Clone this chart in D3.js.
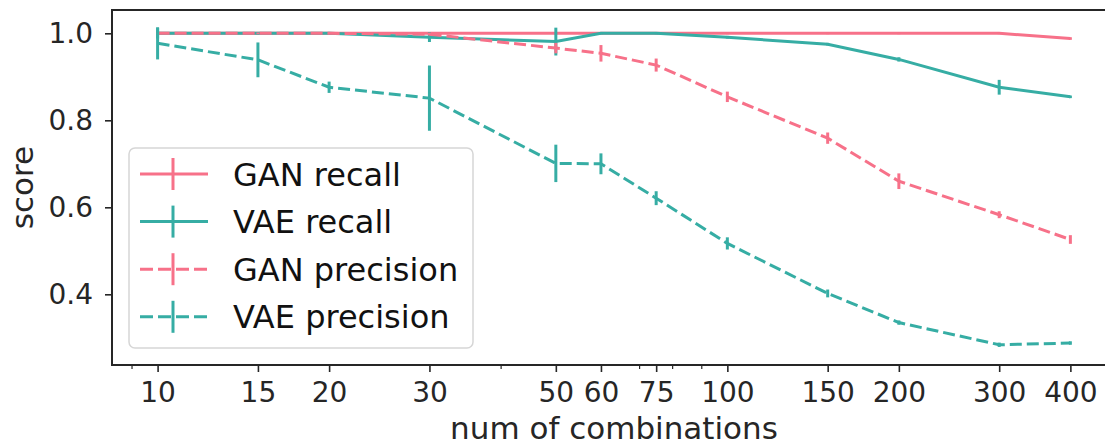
<!DOCTYPE html>
<html>
<head>
<meta charset="utf-8">
<script src="https://cdn.jsdelivr.net/npm/d3@7"></script>
<style>
  body { margin: 0; background: #fff; }
  svg { display: block; font-family: "DejaVu Sans", sans-serif; }
</style>
</head>
<body>
<svg id="chart"></svg>
<script>
// data
const combos = [10, 15, 20, 30, 50, 60, 75, 100, 150, 200, 300, 400];
const ganRecall = [1.0, 1.0, 1.0, 1.0, 1.0, 1.0, 1.0, 1.0, 1.0, 1.0, 1.0, 0.988];
const ganRecallErr = [0.003, 0.002, 0.002, 0.002, 0.003, 0.002, 0.002, 0.002, 0.002, 0.002, 0.002, 0.003];
const vaeRecall = [1.0, 1.0, 1.0, 0.991, 0.981, 1.0, 1.0, 0.991, 0.975, 0.940, 0.876, 0.854];
const vaeRecallErr = [0.012, 0.002, 0.002, 0.011, 0.032, 0.002, 0.002, 0.003, 0.003, 0.005, 0.017, 0.003];
const ganPrecision = [1.0, 1.0, 1.0, 0.998, 0.966, 0.954, 0.927, 0.854, 0.759, 0.660, 0.583, 0.526];
const ganPrecisionErr = [0.002, 0.002, 0.002, 0.003, 0.012, 0.019, 0.015, 0.012, 0.013, 0.018, 0.008, 0.010];
const vaePrecision = [0.977, 0.939, 0.876, 0.851, 0.701, 0.700, 0.621, 0.517, 0.402, 0.335, 0.284, 0.288];
const vaePrecisionErr = [0.037, 0.040, 0.013, 0.075, 0.043, 0.024, 0.016, 0.014, 0.009, 0.005, 0.005, 0.004];
const xTicks = [10, 15, 20, 30, 50, 60, 75, 100, 150, 200, 300, 400];
const xMinorTicks = [9, 40, 70, 80, 90];
const yTicks = [0.4, 0.6, 0.8, 1.0];

const pink = '#f77189';
const teal = '#36ada4';

const series = [
  { name: 'GAN recall', values: ganRecall, err: ganRecallErr, color: pink, dash: null },
  { name: 'VAE recall', values: vaeRecall, err: vaeRecallErr, color: teal, dash: null },
  { name: 'GAN precision', values: ganPrecision, err: ganPrecisionErr, color: pink, dash: '12,5' },
  { name: 'VAE precision', values: vaePrecision, err: vaePrecisionErr, color: teal, dash: '12,5' }
];

const width = 1105;
const height = 446;
const margin = { top: 10, right: -11, bottom: 81, left: 112 };

const svg = d3.select('#chart').attr('width', width).attr('height', height);

const x = d3.scaleLog()
  .domain([8.317, 481])
  .range([margin.left, width - margin.right]);

const y = d3.scaleLinear()
  .domain([0.2375, 1.0536])
  .range([height - margin.bottom, margin.top]);

const ink = '#262626';

// x axis
const xAxis = svg.append('g')
  .attr('transform', `translate(0,${height - margin.bottom})`)
  .call(d3.axisBottom(x).tickValues(xTicks).tickFormat(d3.format('d')).tickSize(7).tickPadding(10));
xAxis.select('.domain').remove();
xAxis.selectAll('.tick line').attr('stroke', ink).attr('stroke-width', 1.6);
xAxis.selectAll('.tick text').attr('fill', ink).style('font-size', '28px').attr('font-family', 'DejaVu Sans');

const xMinor = svg.append('g')
  .attr('transform', `translate(0,${height - margin.bottom})`)
  .call(d3.axisBottom(x).tickValues(xMinorTicks).tickFormat('').tickSize(4));
xMinor.select('.domain').remove();
xMinor.selectAll('.tick line').attr('stroke', ink).attr('stroke-width', 1.2);

// y axis
const yAxis = svg.append('g')
  .attr('transform', `translate(${margin.left},0)`)
  .call(d3.axisLeft(y).tickValues(yTicks).tickFormat(d3.format('.1f')).tickSize(7).tickPadding(12));
yAxis.select('.domain').remove();
yAxis.selectAll('.tick line').attr('stroke', ink).attr('stroke-width', 1.6);
yAxis.selectAll('.tick text').attr('fill', ink).style('font-size', '28px').attr('font-family', 'DejaVu Sans');

// lines with error bars
const line = d3.line()
  .x((d, i) => x(combos[i]))
  .y(d => y(d));

series.forEach(s => {
  const g = svg.append('g');
  g.append('path')
    .datum(s.values)
    .attr('d', line)
    .attr('fill', 'none')
    .attr('stroke', s.color)
    .attr('stroke-width', 3)
    .attr('stroke-dasharray', s.dash);
  g.selectAll('line')
    .data(s.values)
    .join('line')
    .attr('x1', (d, i) => x(combos[i]))
    .attr('x2', (d, i) => x(combos[i]))
    .attr('y1', (d, i) => y(d - s.err[i]))
    .attr('y2', (d, i) => y(d + s.err[i]))
    .attr('stroke', s.color)
    .attr('stroke-width', 3);
});

// spines
svg.append('rect')
  .attr('x', margin.left)
  .attr('y', margin.top)
  .attr('width', width - margin.right - margin.left)
  .attr('height', height - margin.bottom - margin.top)
  .attr('fill', 'none')
  .attr('stroke', ink)
  .attr('stroke-width', 2);

// axis labels
svg.append('text')
  .attr('x', (margin.left + width - margin.right) / 2)
  .attr('y', 439)
  .attr('text-anchor', 'middle')
  .attr('fill', ink)
  .style('font-size', '31px')
  .text('num of combinations');

svg.append('text')
  .attr('transform', `translate(33,${(margin.top + height - margin.bottom) / 2}) rotate(-90)`)
  .attr('text-anchor', 'middle')
  .attr('fill', ink)
  .style('font-size', '31px')
  .text('score');

// legend
const legend = svg.append('g').attr('transform', 'translate(129,148)');
legend.append('rect')
  .attr('width', 344)
  .attr('height', 200)
  .attr('rx', 6)
  .attr('fill', 'rgba(255,255,255,0.8)')
  .attr('stroke', '#d6d6d6')
  .attr('stroke-width', 1.5);

series.forEach((s, i) => {
  const cy = 26 + i * 47.6;
  const row = legend.append('g').attr('transform', `translate(0,${cy})`);
  row.append('line')
    .attr('x1', 11).attr('x2', 79)
    .attr('stroke', s.color)
    .attr('stroke-width', 3)
    .attr('stroke-dasharray', s.dash ? '13,5' : null);
  row.append('line')
    .attr('x1', 44).attr('x2', 44)
    .attr('y1', -16).attr('y2', 16)
    .attr('stroke', s.color)
    .attr('stroke-width', 3);
  row.append('text')
    .attr('x', 104)
    .attr('dy', '0.36em')
    .attr('fill', '#111')
    .style('font-size', '32px')
    .text(s.name);
});
</script>
</body>
</html>
